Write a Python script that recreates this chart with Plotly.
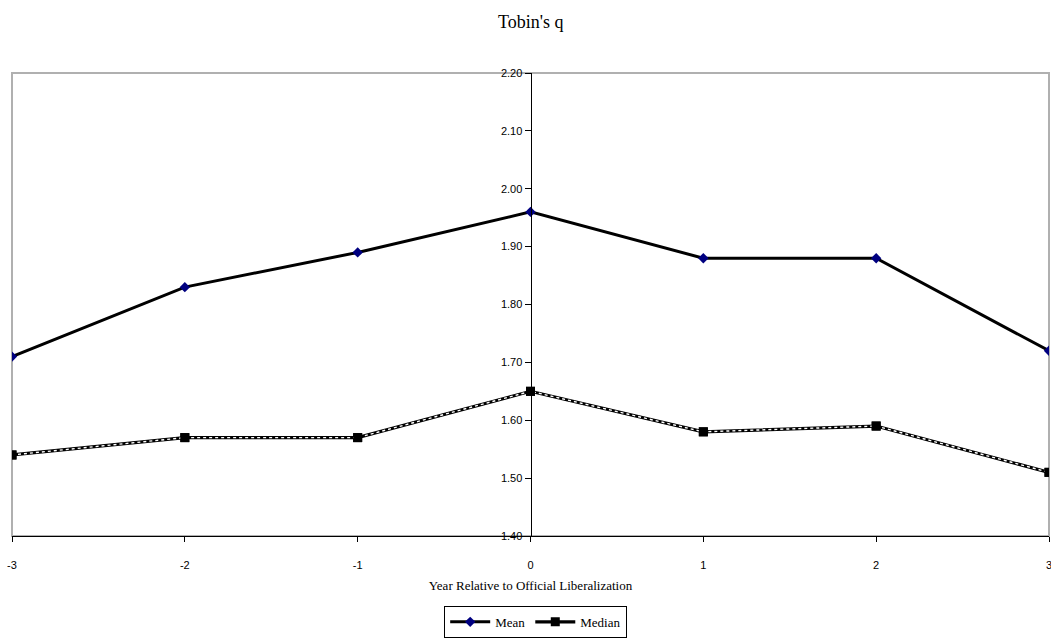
import plotly.graph_objects as go

years = [-3, -2, -1, 0, 1, 2, 3]
mean_q = [1.71, 1.83, 1.89, 1.96, 1.88, 1.88, 1.72]
median_q = [1.54, 1.57, 1.57, 1.65, 1.58, 1.59, 1.51]
y_ticks = [1.40, 1.50, 1.60, 1.70, 1.80, 1.90, 2.00, 2.10, 2.20]

fig = go.Figure()

# Median: chain-like line (black thick + white dotted overlay)
fig.add_trace(go.Scatter(
    x=years, y=median_q, name="Median", mode="lines+markers",
    line=dict(color="black", width=3.2),
    marker=dict(symbol="square", size=9, color="black"),
))
fig.add_trace(go.Scatter(
    x=years, y=median_q, mode="lines", showlegend=False, hoverinfo="skip",
    line=dict(color="white", width=1.4, dash="dot"),
))
fig.add_trace(go.Scatter(
    x=years, y=median_q, mode="markers", showlegend=False,
    marker=dict(symbol="square", size=9, color="black"),
))
fig.add_trace(go.Scatter(
    x=years, y=mean_q, name="Mean", mode="lines+markers",
    line=dict(color="black", width=3),
    marker=dict(symbol="diamond", size=8, color="#000080"),
))

fig.update_layout(
    width=1051, height=639,
    margin=dict(l=12, r=2, t=73, b=102),
    paper_bgcolor="white", plot_bgcolor="white",
    title=dict(text="Tobin's q", x=0.505, xanchor="center", y=0.966, yanchor="middle",
               font=dict(family="Liberation Serif", size=18, color="black")),
    font=dict(family="Liberation Sans", size=10, color="black"),
    showlegend=True,
    legend=dict(orientation="h", x=0.505, xanchor="center", y=-0.183, yanchor="middle",
                bordercolor="black", borderwidth=1, bgcolor="white",
                font=dict(family="Liberation Serif", size=13, color="black"),
                traceorder="reversed", itemwidth=40),
    xaxis=dict(range=[-3, 3], tickvals=years, ticktext=[str(v) for v in years],
               automargin=False,
               showgrid=False, zeroline=False, showline=True, linecolor="black", linewidth=1,
               ticks="outside", ticklen=5, tickcolor="black", ticklabelstandoff=14,
               ticklabeloverflow="allow",
               tickfont=dict(family="Liberation Sans", size=11),
               title=dict(text="Year Relative to Official Liberalization", standoff=10,
                          font=dict(family="Liberation Serif", size=13))),
    yaxis=dict(range=[1.40, 2.20], tickvals=y_ticks, ticktext=[f"{v:.2f}" for v in y_ticks],
               anchor="free", position=0.5, automargin=False,
               showgrid=False, zeroline=False, showline=True, linecolor="black", linewidth=1,
               ticks="outside", ticklen=6, tickcolor="black",
               tickfont=dict(family="Liberation Sans", size=11)),
    shapes=[dict(type="rect", xref="paper", yref="paper", x0=0, x1=1, y0=0, y1=1,
                 line=dict(color="#b0b0b0", width=2), layer="below")],
)

fig.write_html("out.html")
